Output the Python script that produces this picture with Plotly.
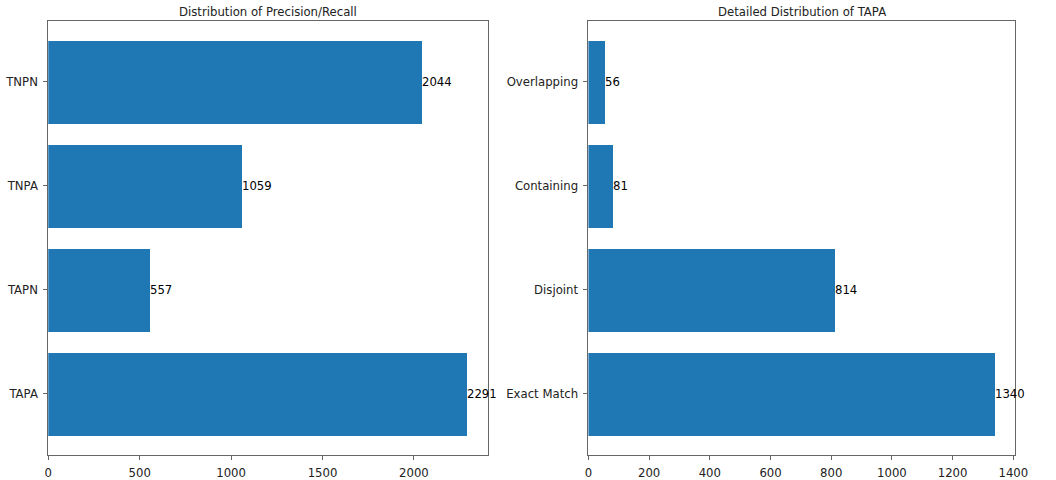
import plotly.graph_objects as go

# Data
pr_categories = ["TAPA", "TAPN", "TNPA", "TNPN"]
pr_values = [2291, 557, 1059, 2044]

tapa_categories = ["Exact Match", "Disjoint", "Containing", "Overlapping"]
tapa_values = [1340, 814, 81, 56]

titles = ["Distribution of Precision/Recall", "Detailed Distribution of TAPA"]

BAR_COLOR = "#1f77b4"
FONT = "DejaVu Sans"
FS = 11.7
W, H = 1056, 480

fig = go.Figure()

fig.add_trace(go.Bar(x=pr_values, y=pr_categories, orientation="h", width=0.8,
                     marker=dict(color=BAR_COLOR, line=dict(width=0)),
                     xaxis="x", yaxis="y", showlegend=False, hoverinfo="x+y"))
fig.add_trace(go.Bar(x=tapa_values, y=tapa_categories, orientation="h", width=0.8,
                     marker=dict(color=BAR_COLOR, line=dict(width=0)),
                     xaxis="x2", yaxis="y2", showlegend=False, hoverinfo="x+y"))

annotations = []
for cats, vals, xr, yr in [(pr_categories, pr_values, "x", "y"),
                           (tapa_categories, tapa_values, "x2", "y2")]:
    for c, v in zip(cats, vals):
        annotations.append(dict(x=v, y=c, xref=xr, yref=yr, text=str(v),
                                showarrow=False, xanchor="left", yanchor="middle",
                                xshift=-2, font=dict(size=FS, color="black", family=FONT)))

left_dom = [45 / W, 492 / W]
right_dom = [594 / W, 1028 / W]
y_dom = [1 - 465 / H, 1 - 21 / H]

for title, dom in zip(titles, [left_dom, right_dom]):
    annotations.append(dict(x=(dom[0] + dom[1]) / 2, y=1 - 12.5 / H, xref="paper", yref="paper",
                            text=title, showarrow=False, xanchor="center", yanchor="middle",
                            font=dict(size=FS, color="#222", family=FONT)))

axis_common = dict(showline=True, linecolor="#666", linewidth=1, mirror=True,
                   ticks="outside", ticklen=4, tickcolor="#666", tickwidth=1,
                   showgrid=False, zeroline=False, ticklabelstandoff=3,
                   tickfont=dict(size=FS, color="#222", family=FONT))

fig.update_layout(
    width=W, height=H,
    margin=dict(l=0, r=0, t=0, b=0),
    paper_bgcolor="white", plot_bgcolor="white",
    font=dict(family=FONT, size=FS, color="#222"),
    bargap=0,
    xaxis=dict(domain=left_dom, anchor="y", range=[0, 2291 * 1.05],
               tickvals=[0, 500, 1000, 1500, 2000], **axis_common),
    yaxis=dict(domain=y_dom, anchor="x", range=[-0.59, 3.59], type="category",
               categoryorder="array", categoryarray=pr_categories, **axis_common),
    xaxis2=dict(domain=right_dom, anchor="y2", range=[0, 1340 * 1.05],
                tickvals=[0, 200, 400, 600, 800, 1000, 1200, 1400], **axis_common),
    yaxis2=dict(domain=y_dom, anchor="x2", range=[-0.59, 3.59], type="category",
                categoryorder="array", categoryarray=tapa_categories, **axis_common),
    annotations=annotations,
)

fig.write_html("out.html")
